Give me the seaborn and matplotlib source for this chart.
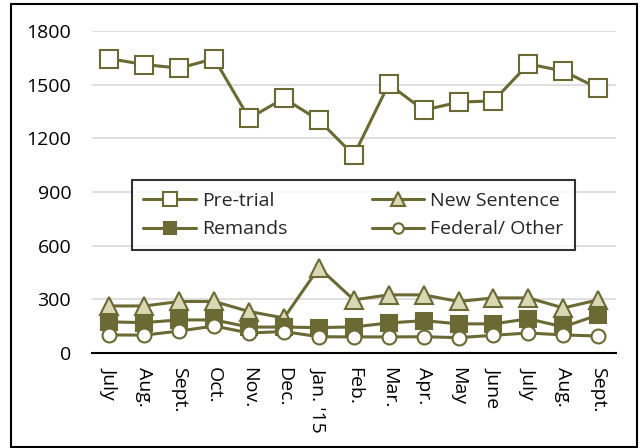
import seaborn as sns
import matplotlib.pyplot as plt
from matplotlib.patches import Rectangle
import pandas as pd

months = ['July', 'Aug.', 'Sept.', 'Oct.', 'Nov.', 'Dec.', "Jan. '15", 'Feb.',
          'Mar.', 'Apr.', 'May', 'June', 'July', 'Aug.', 'Sept.']
pretrial = [1645, 1612, 1592, 1645, 1312, 1423, 1301, 1105, 1503, 1357, 1402, 1409, 1615, 1576, 1479]
new_sentence = [263, 263, 288, 288, 232, 196, 477, 297, 325, 325, 288, 308, 308, 252, 297]
remands = [174, 170, 185, 185, 145, 145, 142, 146, 168, 181, 163, 163, 191, 146, 213]
federal = [101, 100, 123, 151, 112, 120, 91, 90, 90, 91, 86, 99, 112, 101, 95]

olive = '#6b6a35'
pale = '#d9d8b3'

sns.set_style('white')
plt.rcParams['font.family'] = ['Open Sans', 'DejaVu Sans']

fig = plt.figure(figsize=(6.42, 4.48), dpi=100)
ax = fig.add_axes([0.1433, 0.212, 0.8157, 0.719])
fig.patches.append(Rectangle((11 / 642, 1 / 448), 626 / 642, 443 / 448, transform=fig.transFigure,
                             fill=False, edgecolor='black', linewidth=1.5))

x = list(range(len(months)))
series = [
    ('Pre-trial', pretrial, 's', 'white', 13),
    ('New Sentence', new_sentence, '^', pale, 13),
    ('Remands', remands, 's', olive, 11),
    ('Federal/ Other', federal, 'o', 'white', 10),
]
for name, vals, mk, fc, ms in series:
    df = pd.DataFrame({'x': x, 'y': vals})
    sns.lineplot(data=df, x='x', y='y', ax=ax, color=olive, linewidth=2.2, marker=mk,
                 markersize=ms, markerfacecolor=fc, markeredgecolor=olive,
                 markeredgewidth=1.5, label=name)

ax.set_xlim(-0.5, len(months) - 0.5)
ax.set_ylim(0, 1800)
ax.set_yticks(range(0, 1801, 300))
ax.set_xticks(x)
ax.set_xticklabels(months, rotation=-90, va='top', ha='center')
ax.tick_params(axis='both', labelsize=14, length=0, colors='black')
ax.tick_params(axis='y', pad=15)
ax.tick_params(axis='x', pad=10)
ax.grid(axis='y', color='#d9d9d9', linewidth=1.2)
ax.set_axisbelow(True)
for s in ['top', 'right', 'left']:
    ax.spines[s].set_visible(False)
ax.spines['bottom'].set_color('black')
ax.spines['bottom'].set_linewidth(1.5)
ax.set_xlabel('')
ax.set_ylabel('')

# legend fills rows: Pre-trial, New Sentence / Remands, Federal
handles, labels = ax.get_legend_handles_labels()
order = [0, 2, 1, 3]
leg = ax.legend([handles[i] for i in order], [labels[i] for i in order], ncol=2,
                loc='upper left', bbox_to_anchor=(0.076, 0.326, 0.846, 0.211), mode='expand',
                fontsize=14, frameon=True, fancybox=False, edgecolor='black',
                handlelength=2.7, handletextpad=0.3, markerscale=0.75,
                borderpad=0.6, labelspacing=0.55, borderaxespad=0)
leg.get_frame().set_linewidth(1.5)

fig.savefig('out.png', dpi=100)
